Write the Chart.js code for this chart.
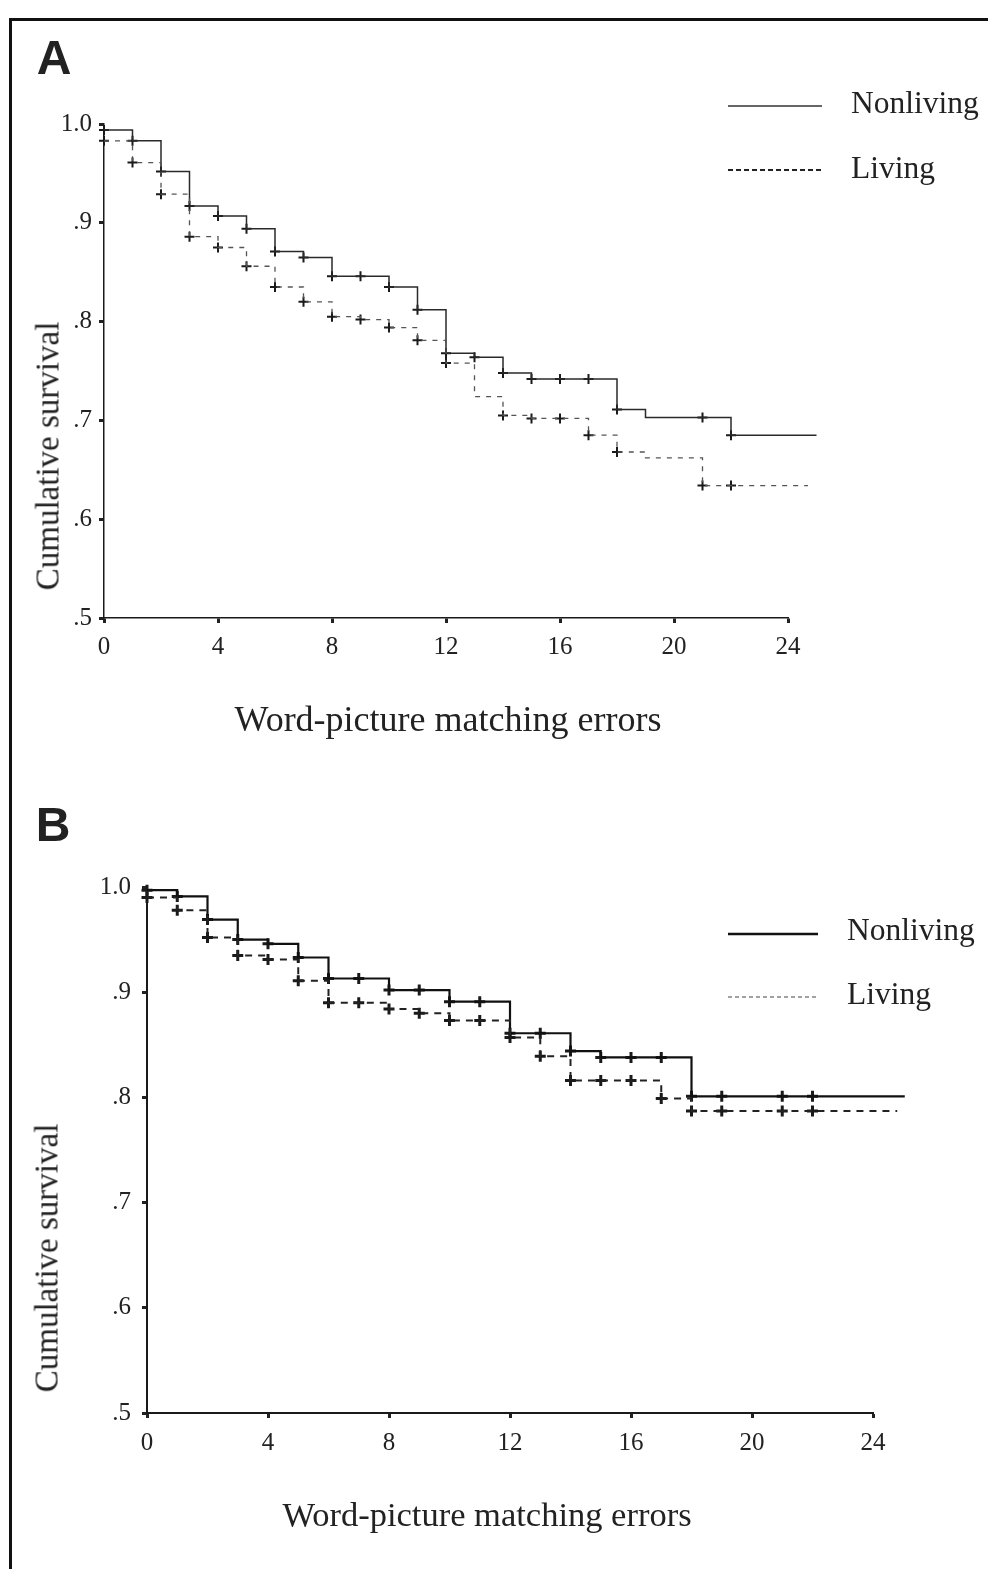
<!DOCTYPE html>
<html>
<head>
<meta charset="utf-8">
<script src="https://cdn.jsdelivr.net/npm/chart.js@4.4.1/dist/chart.umd.min.js"></script>
<style>
  html, body { margin: 0; padding: 0; background: #fff; }
  #page { position: relative; width: 988px; height: 1569px; overflow: hidden; background: #fff; }
  #frame { position: absolute; left: 9px; top: 18px; right: -10px; bottom: -10px; border-top: 3px solid #111; border-left: 3px solid #111; }
  canvas { position: absolute; left: 0; }
  .txt { position: absolute; font-family: "Liberation Serif", "Times New Roman", serif; color: #222; line-height: 1; white-space: nowrap; transform: translate(-50%, -50%); }
  .letter { position: absolute; font-family: "Liberation Sans", Arial, sans-serif; font-weight: bold; font-size: 48px; color: #222; line-height: 1; transform: translate(-50%, -50%); }
  .leg { position: absolute; font-family: "Liberation Serif", "Times New Roman", serif; font-size: 31.5px; color: #222; line-height: 1; white-space: nowrap; transform: translateY(-50%); }
  .ytitle { transform: translate(-50%, -50%) rotate(-90deg); }
</style>
</head>
<body>
<div id="page">
  <div id="frame"></div>
  <canvas id="chartA" width="988" height="780" style="top:0"></canvas>
  <canvas id="chartB" width="988" height="789" style="top:780px"></canvas>

  <div class="letter" style="left:54px; top:58px">A</div>
  <div class="leg" style="left:851px; top:103px">Nonliving</div>
  <div class="leg" style="left:851px; top:168px">Living</div>
  <div class="txt ytitle" style="left:48px; top:456px; font-size:33px">Cumulative survival</div>
  <div class="txt" style="left:448px; top:719px; font-size:36px">Word-picture matching errors</div>

  <div class="letter" style="left:53px; top:825px">B</div>
  <div class="leg" style="left:847px; top:930px">Nonliving</div>
  <div class="leg" style="left:847px; top:994px">Living</div>
  <div class="txt ytitle" style="left:47px; top:1258px; font-size:33px">Cumulative survival</div>
  <div class="txt" style="left:487px; top:1514px; font-size:34.5px">Word-picture matching errors</div>
</div>

<script>
// axis labels
const xTickLabels = ['0', '4', '8', '12', '16', '20', '24'];
const yTickLabels = ['.5', '.6', '.7', '.8', '.9', '1.0'];

// number of errors (one value of each curve per count)
const errors = [0, 1, 2, 3, 4, 5, 6, 7, 8, 9, 10, 11, 12, 13, 14, 15, 16, 17, 18, 19, 20, 21, 22];

// panel A
const nonlivingA = [0.994, 0.983, 0.952, 0.917, 0.907, 0.894, 0.871, 0.865, 0.846, 0.846, 0.835, 0.812,
                    0.768, 0.764, 0.748, 0.742, 0.742, 0.742, 0.711, 0.703, 0.703, 0.703, 0.685];
const livingA = [0.983, 0.961, 0.929, 0.886, 0.875, 0.856, 0.835, 0.820, 0.805, 0.802, 0.794, 0.781,
                 0.758, 0.724, 0.705, 0.702, 0.702, 0.685, 0.668, 0.662, 0.662, 0.634, 0.634];
const censNonlivingA = [0, 1, 2, 3, 4, 5, 6, 7, 8, 9, 10, 11, 12, 13, 14, 15, 16, 17, 18, 21, 22];
const censLivingA = [0, 1, 2, 3, 4, 5, 6, 7, 8, 9, 10, 11, 12, 14, 15, 16, 17, 18, 21, 22];
const endNonlivingA = 25;
const endLivingA = 24.7;

// panel B
const nonlivingB = [0.997, 0.991, 0.969, 0.950, 0.946, 0.933, 0.913, 0.913, 0.902, 0.902, 0.891, 0.891,
                    0.861, 0.861, 0.844, 0.838, 0.838, 0.838, 0.801, 0.801, 0.801, 0.801, 0.801];
const livingB = [0.990, 0.978, 0.952, 0.935, 0.931, 0.911, 0.890, 0.890, 0.884, 0.880, 0.873, 0.873,
                 0.857, 0.839, 0.816, 0.816, 0.816, 0.799, 0.787, 0.787, 0.787, 0.787, 0.787];
const censNonlivingB = [0, 1, 2, 3, 4, 5, 6, 7, 8, 9, 10, 11, 12, 13, 14, 15, 16, 17, 18, 19, 21, 22];
const censLivingB = [0, 1, 2, 3, 4, 5, 6, 7, 8, 9, 10, 11, 12, 13, 14, 15, 16, 17, 18, 19, 21, 22];
const endNonlivingB = 25.05;
const endLivingB = 24.8;

function stepPoints(values, end) {
    const pts = errors.map((x, i) => ({ x: x, y: values[i] }));
    pts.push({ x: end, y: values[values.length - 1] });
    return pts;
}

function censorPoints(values, xs) {
    return xs.map(x => ({ x: x, y: values[errors.indexOf(x)] }));
}

// legend samples drawn on the canvas, text is html
function legendPlugin(items) {
    return {
        id: 'legendLines',
        afterDraw(chart) {
            const ctx = chart.ctx;
            ctx.save();
            items.forEach(it => {
                ctx.beginPath();
                ctx.strokeStyle = it.color;
                ctx.lineWidth = it.width;
                ctx.setLineDash(it.dash);
                ctx.moveTo(it.x1, it.y);
                ctx.lineTo(it.x2, it.y);
                ctx.stroke();
            });
            ctx.restore();
        }
    };
}

function makePanel(id, cfg) {
    const el = document.getElementById(id);
    return new Chart(el.getContext('2d'), {
        type: 'line',
        data: {
            datasets: [
                { data: stepPoints(cfg.living, cfg.endLiving), stepped: 'before', borderColor: cfg.dashColor,
                  borderWidth: cfg.dashWidth, borderDash: cfg.dash, pointRadius: 0, fill: false, clip: false },
                { data: stepPoints(cfg.nonliving, cfg.endNonliving), stepped: 'before', borderColor: cfg.solidColor,
                  borderWidth: cfg.solidWidth, pointRadius: 0, fill: false, clip: false },
                { data: censorPoints(cfg.living, cfg.censLiving), showLine: false, pointStyle: 'cross',
                  pointRadius: cfg.crossR, pointBorderWidth: cfg.crossW, pointBorderColor: '#1a1a1a', clip: false },
                { data: censorPoints(cfg.nonliving, cfg.censNonliving), showLine: false, pointStyle: 'cross',
                  pointRadius: cfg.crossR, pointBorderWidth: cfg.crossW, pointBorderColor: '#1a1a1a', clip: false }
            ]
        },
        options: {
            responsive: false,
            animation: false,
            devicePixelRatio: 1,
            layout: { padding: cfg.padding },
            plugins: { legend: { display: false }, tooltip: { enabled: false } },
            scales: {
                x: {
                    type: 'linear', min: 0, max: 24,
                    afterFit: (axis) => { axis.height = 50; },
                    border: { display: true, color: '#1a1a1a', width: cfg.axisWidth },
                    grid: { drawOnChartArea: false, drawTicks: true, tickLength: 5, tickWidth: 3, tickColor: '#222' },
                    ticks: {
                        stepSize: 4, padding: cfg.xPad, color: '#222', maxRotation: 0,
                        font: { family: '"Liberation Serif", "Times New Roman", serif', size: 25 },
                        callback: (v, i) => xTickLabels[i]
                    }
                },
                y: {
                    type: 'linear', min: 0.5, max: 1.0,
                    afterFit: (axis) => { axis.width = cfg.yWidth; },
                    border: { display: true, color: '#1a1a1a', width: cfg.axisWidth },
                    grid: { drawOnChartArea: false, drawTicks: true, tickLength: 5, tickWidth: 3, tickColor: '#222' },
                    ticks: {
                        stepSize: 0.1, padding: cfg.yPad, color: '#222',
                        font: { family: '"Liberation Serif", "Times New Roman", serif', size: 25 },
                        callback: (v, i) => yTickLabels[i]
                    }
                }
            }
        },
        plugins: [legendPlugin(cfg.legend)]
    });
}

makePanel('chartA', {
    nonliving: nonlivingA, living: livingA,
    censNonliving: censNonlivingA, censLiving: censLivingA,
    endNonliving: endNonlivingA, endLiving: endLivingA,
    solidColor: '#2a2a2a', solidWidth: 1.5,
    dashColor: '#555', dashWidth: 1.3, dash: [5, 6],
    crossR: 5, crossW: 2, axisWidth: 1.5,
    yWidth: 104, yPad: 7, xPad: 9,
    padding: { left: 0, right: 200, top: 124, bottom: 112 },
    legend: [
        { x1: 728, x2: 822, y: 106, color: '#333', width: 1.5, dash: [] },
        { x1: 728, x2: 822, y: 170, color: '#222', width: 2, dash: [5, 3] }
    ]
});

makePanel('chartB', {
    nonliving: nonlivingB, living: livingB,
    censNonliving: censNonlivingB, censLiving: censLivingB,
    endNonliving: endNonlivingB, endLiving: endLivingB,
    solidColor: '#111', solidWidth: 2.2,
    dashColor: '#222', dashWidth: 2, dash: [7, 6],
    crossR: 5.5, crossW: 3, axisWidth: 2,
    yWidth: 147, yPad: 11, xPad: 10,
    padding: { left: 0, right: 115, top: 107, bottom: 106 },
    legend: [
        { x1: 728, x2: 818, y: 154, color: '#111', width: 2.5, dash: [] },
        { x1: 728, x2: 818, y: 217, color: '#444', width: 1.2, dash: [4, 3] }
    ]
});
</script>
</body>
</html>
